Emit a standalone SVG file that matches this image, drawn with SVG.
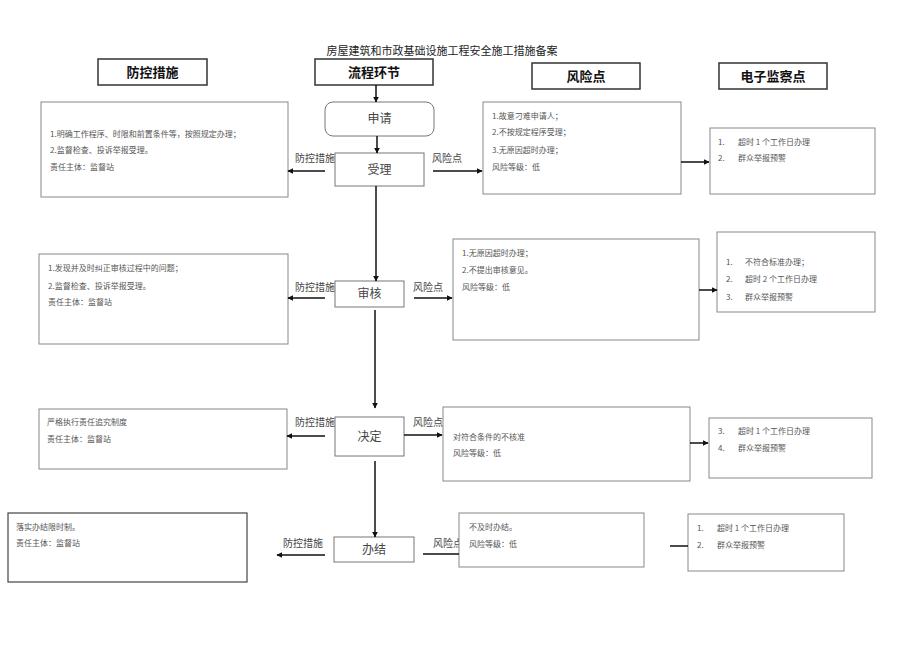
<svg xmlns="http://www.w3.org/2000/svg" width="920" height="651" viewBox="0 0 920 651">
<style>
text{font-family:"Noto Sans CJK SC","Liberation Sans",sans-serif}
.title{font-size:11px;fill:#222}
.hdr{fill:#fff;stroke:#333;stroke-width:1.5}
.hdrt{font-size:13px;font-weight:bold;fill:#111;text-anchor:middle}
.box{fill:#fff;stroke:#888;stroke-width:1}
.dbox{fill:#fff;stroke:#444;stroke-width:1.2}
.body{font-size:8px;fill:#555}
.step{fill:#fff;stroke:#777;stroke-width:1}
.stept{font-size:12px;fill:#444;text-anchor:middle}
.lbl{font-size:10px;fill:#444}
.con line{stroke:#111;stroke-width:1.5}
</style>
<defs>
<marker id="ah" viewBox="0 0 10 10" refX="9" refY="5" markerWidth="6" markerHeight="6" markerUnits="userSpaceOnUse" orient="auto"><path d="M0,0L10,5L0,10z" fill="#111"/></marker>
</defs>
<rect width="920" height="651" fill="#fff"/>
<text class="title" x="442" y="55" text-anchor="middle">房屋建筑和市政基础设施工程安全施工措施备案</text>

<g id="labels">
<text class="lbl" x="295" y="162">防控措施</text>
<text class="lbl" x="432" y="162">风险点</text>
<text class="lbl" x="295" y="291">防控措施</text>
<text class="lbl" x="413" y="291">风险点</text>
<text class="lbl" x="295" y="426">防控措施</text>
<text class="lbl" x="413" y="426">风险点</text>
<text class="lbl" x="283" y="547">防控措施</text>
<text class="lbl" x="433" y="547">风险点</text>
</g>

<g id="hdr-fk"><rect class="hdr" x="98" y="59" width="109" height="26"/><text class="hdrt" x="152.5" y="77">防控措施</text></g>
<g id="hdr-lc"><rect class="hdr" x="315" y="59" width="118" height="26"/><text class="hdrt" x="374" y="77">流程环节</text></g>
<g id="hdr-fx"><rect class="hdr" x="532" y="63" width="108" height="26"/><text class="hdrt" x="586" y="81">风险点</text></g>
<g id="hdr-dz"><rect class="hdr" x="719" y="63" width="108" height="26"/><text class="hdrt" x="773" y="81">电子监察点</text></g>

<g id="step-sq"><rect class="step" x="325" y="102" width="109" height="34" rx="8" stroke="#333" stroke-width="1.3"/><text class="stept" x="379.5" y="123">申请</text></g>
<g id="step-sl"><rect class="step" x="335" y="153" width="89" height="33"/><text class="stept" x="379.5" y="174">受理</text></g>
<g id="step-sh"><rect class="step" x="335" y="281" width="69" height="26"/><text class="stept" x="369.5" y="298">审核</text></g>
<g id="step-jd"><rect class="step" x="335" y="417" width="69" height="39"/><text class="stept" x="369.5" y="441">决定</text></g>
<g id="step-bj"><rect class="step" x="334" y="537" width="80" height="25"/><text class="stept" x="374" y="554">办结</text></g>

<g id="fk1"><rect class="box" x="41" y="102" width="247" height="95"/>
<text class="body" x="50" y="137">1.明确工作程序、时限和前置条件等，按照规定办理；</text>
<text class="body" x="50" y="153">2.监督检查、投诉举报受理。</text>
<text class="body" x="50" y="170">责任主体：监督站</text></g>
<g id="fk2"><rect class="box" x="39" y="254" width="249" height="90"/>
<text class="body" x="48" y="271">1.发现并及时纠正审核过程中的问题；</text>
<text class="body" x="48" y="289">2.监督检查、投诉举报受理。</text>
<text class="body" x="48" y="305">责任主体：监督站</text></g>
<g id="fk3"><rect class="box" x="39" y="409" width="248" height="60"/>
<text class="body" x="47" y="425">严格执行责任追究制度</text>
<text class="body" x="47" y="442">责任主体：监督站</text></g>
<g id="fk4"><rect class="dbox" x="8" y="513" width="239" height="69"/>
<text class="body" x="16" y="530">落实办结限时制。</text>
<text class="body" x="16" y="546">责任主体：监督站</text></g>

<g id="fx1"><rect class="box" x="483" y="102" width="198" height="92"/>
<text class="body" x="492" y="119">1.故意刁难申请人；</text>
<text class="body" x="492" y="135">2.不按规定程序受理；</text>
<text class="body" x="492" y="153">3.无原因超时办理；</text>
<text class="body" x="492" y="170">风险等级：低</text></g>
<g id="fx2"><rect class="box" x="453" y="239" width="246" height="101"/>
<text class="body" x="462" y="256">1.无原因超时办理；</text>
<text class="body" x="462" y="273">2.不提出审核意见。</text>
<text class="body" x="462" y="290">风险等级：低</text></g>
<g id="fx3"><rect class="box" x="443" y="407" width="247" height="74"/>
<text class="body" x="453" y="440">对符合条件的不核准</text>
<text class="body" x="453" y="456">风险等级：低</text></g>
<g id="fx4"><rect class="box" x="459" y="513" width="185" height="54"/>
<text class="body" x="469" y="530">不及时办结。</text>
<text class="body" x="469" y="547">风险等级：低</text></g>

<g id="dz1"><rect class="box" x="710" y="128" width="165" height="66"/>
<text class="body" x="718" y="145">1.</text><text class="body" x="738" y="145">超时 1 个工作日办理</text>
<text class="body" x="718" y="161">2.</text><text class="body" x="738" y="161">群众举报预警</text></g>
<g id="dz2"><rect class="box" x="717" y="232" width="158" height="80"/>
<text class="body" x="726" y="265">1.</text><text class="body" x="745" y="265">不符合标准办理；</text>
<text class="body" x="726" y="282">2.</text><text class="body" x="745" y="282">超时 2 个工作日办理</text>
<text class="body" x="726" y="300">3.</text><text class="body" x="745" y="300">群众举报预警</text></g>
<g id="dz3"><rect class="box" x="709" y="418" width="163" height="60"/>
<text class="body" x="718" y="434">3.</text><text class="body" x="738" y="434">超时 1 个工作日办理</text>
<text class="body" x="718" y="451">4.</text><text class="body" x="738" y="451">群众举报预警</text></g>
<g id="dz4"><rect class="box" x="688" y="514" width="156" height="57"/>
<text class="body" x="697" y="531">1.</text><text class="body" x="717" y="531">超时 1 个工作日办理</text>
<text class="body" x="697" y="548">2.</text><text class="body" x="717" y="548">群众举报预警</text></g>

<g id="connectors" class="con">
<line x1="376" y1="85" x2="376" y2="102" marker-end="url(#ah)"/>
<line x1="377" y1="136" x2="377" y2="153" marker-end="url(#ah)"/>
<line x1="376" y1="186" x2="376" y2="281" marker-end="url(#ah)"/>
<line x1="375" y1="310" x2="375" y2="408" marker-end="url(#ah)"/>
<line x1="375" y1="461" x2="375" y2="537" marker-end="url(#ah)"/>

<line x1="325" y1="171" x2="288" y2="171" marker-end="url(#ah)"/>
<line x1="433" y1="171" x2="482" y2="171" marker-end="url(#ah)"/>
<line x1="681" y1="162" x2="709" y2="162" marker-end="url(#ah)"/>

<line x1="325" y1="298" x2="288" y2="298" marker-end="url(#ah)"/>
<line x1="414" y1="298" x2="452" y2="298" marker-end="url(#ah)"/>
<line x1="699" y1="290" x2="717" y2="290" marker-end="url(#ah)"/>

<line x1="325" y1="436" x2="287" y2="436" marker-end="url(#ah)"/>
<line x1="404" y1="435" x2="442" y2="435" marker-end="url(#ah)"/>
<line x1="690" y1="443" x2="708" y2="443" marker-end="url(#ah)"/>

<line x1="325" y1="555" x2="277" y2="555" marker-end="url(#ah)"/>
<line x1="423" y1="554" x2="459" y2="554"/>
<line x1="670" y1="546" x2="688" y2="546"/>
</g>
</svg>
